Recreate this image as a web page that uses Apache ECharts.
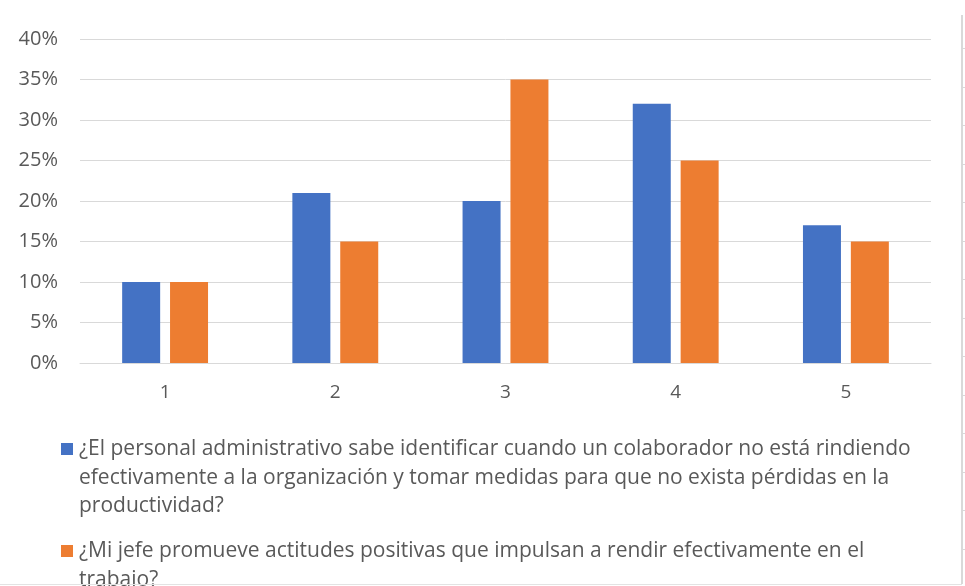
<!DOCTYPE html>
<html>
<head>
<meta charset="utf-8">
<script src="https://cdn.jsdelivr.net/npm/echarts@6/dist/echarts.min.js"></script>
<style>
  html, body { margin: 0; padding: 0; background: #ffffff; }
  #chart { width: 965px; height: 586px; }
</style>
</head>
<body>
<div id="chart"></div>
<script>
// Response scale (1–5) and the share of answers per question
const categories = ['1', '2', '3', '4', '5'];
const seriesNames = [
  '¿El personal administrativo sabe identificar cuando un colaborador no está rindiendo efectivamente a la organización y tomar medidas para que no exista pérdidas en la productividad?',
  '¿Mi jefe promueve actitudes positivas que impulsan a rendir efectivamente en el trabajo?'
];
const legendLines = [
  ['¿El personal administrativo sabe identificar cuando un colaborador no está rindiendo',
   'efectivamente a la organización y tomar medidas para que no exista pérdidas en la',
   'productividad?'],
  ['¿Mi jefe promueve actitudes positivas que impulsan a rendir efectivamente en el',
   'trabajo?']
];
const adminValues = [0.10, 0.21, 0.20, 0.32, 0.17];
const bossValues = [0.10, 0.15, 0.35, 0.25, 0.15];
const yTicks = [0, 0.05, 0.10, 0.15, 0.20, 0.25, 0.30, 0.35, 0.40];

const colors = ['#4472C4', '#ED7D31'];
const textColor = '#595959';
const fontFamily = '"Open Sans", "Noto Sans", sans-serif';

const chart = echarts.init(document.getElementById('chart'), null, { renderer: 'canvas' });

// Legend drawn as wrapped text blocks under the plot
const legendGraphics = [];
const lineH = 28.5;
const legendTops = [435, 537];
legendLines.forEach((lines, i) => {
  legendGraphics.push({
    type: 'rect',
    left: 61, top: legendTops[i] + 8,
    shape: { width: 12, height: 12 },
    style: { fill: colors[i] }
  });
  legendGraphics.push({
    type: 'text',
    left: 79, top: legendTops[i],
    style: {
      text: lines.join('\n'),
      fill: textColor,
      font: '21px ' + fontFamily,
      lineHeight: lineH
    }
  });
});

// Frame edges at the right and bottom of the canvas
const frame = [
  { type: 'line', shape: { x1: 962, y1: 15, x2: 962, y2: 584 }, style: { stroke: '#d9d9d9', lineWidth: 2 } },
  { type: 'line', shape: { x1: 0, y1: 584.5, x2: 962, y2: 584.5 }, style: { stroke: '#e3e3e3', lineWidth: 1 } }
];
for (let k = 0; k < 14; k++) {
  const y = Math.round(48 + k * 38.5) + 0.5;
  frame.push({ type: 'line', shape: { x1: 962, y1: y, x2: 965, y2: y }, style: { stroke: '#d9d9d9', lineWidth: 1 } });
}

const option = {
  backgroundColor: '#ffffff',
  animation: false,
  color: colors,
  grid: { left: 80, right: 34, top: 39, bottom: 223, containLabel: false },
  xAxis: {
    type: 'category',
    data: categories,
    axisLine: { show: true, lineStyle: { color: '#d9d9d9', width: 1 } },
    axisTick: { show: false },
    axisLabel: { color: textColor, fontSize: 19, fontFamily: fontFamily, margin: 20 }
  },
  yAxis: {
    type: 'value',
    min: 0, max: 0.40, interval: 0.05,
    axisLine: { show: false },
    axisTick: { show: false },
    splitLine: { lineStyle: { color: '#d9d9d9', width: 1 } },
    axisLabel: {
      color: textColor, fontSize: 20, fontFamily: fontFamily, margin: 22,
      formatter: v => Math.round(v * 100) + '%'
    }
  },
  legend: { show: false, data: seriesNames },
  series: [
    { name: seriesNames[0], type: 'bar', data: adminValues, barWidth: 38, barGap: '26%',
      itemStyle: { color: colors[0] } },
    { name: seriesNames[1], type: 'bar', data: bossValues, barWidth: 38, barGap: '26%',
      itemStyle: { color: colors[1] } }
  ],
  graphic: legendGraphics.concat(frame)
};

chart.setOption(option);
</script>
</body>
</html>
